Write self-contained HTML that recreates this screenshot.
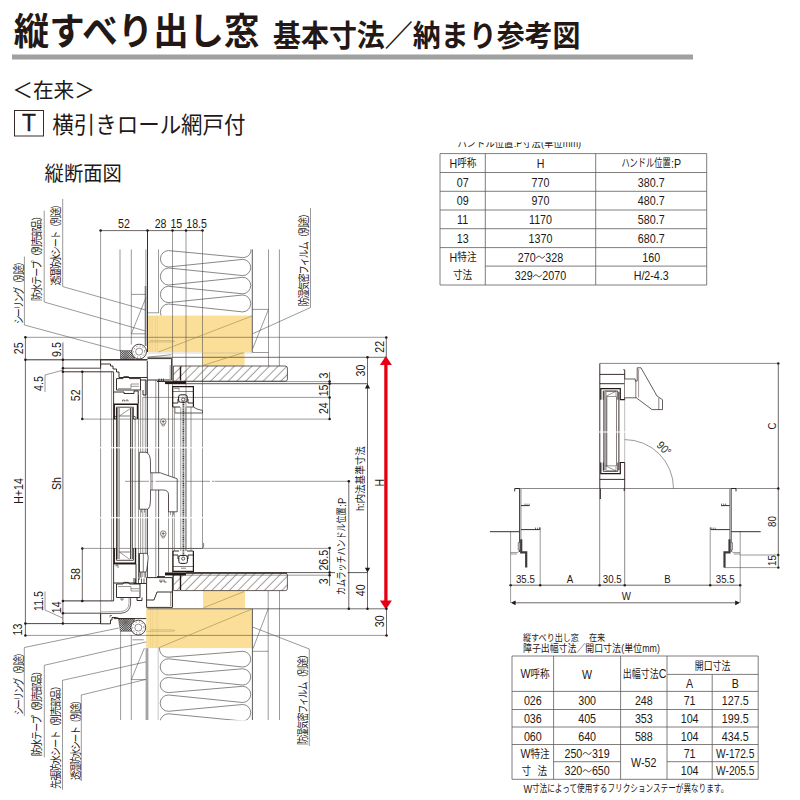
<!DOCTYPE html>
<html lang="ja"><head><meta charset="utf-8"><title>縦すべり出し窓 基本寸法/納まり参考図</title>
<style>
html,body{margin:0;padding:0;background:#fff;}
body{width:800px;height:800px;overflow:hidden;font-family:"Liberation Sans",sans-serif;}
svg{display:block;font-family:"Liberation Sans",sans-serif;}
.j{font-family:"Liberation Sans","Noto Sans CJK JP",sans-serif;fill:#231815;}
</style></head><body>
<svg width="800" height="800" viewBox="0 0 800 800">
<rect width="800" height="800" fill="#fff"/>
<text class="j" transform="translate(13.80 45.00) scale(1 1.0572)" font-size="35.47" font-weight="bold">縦すべり出し窓</text>
<text class="j" transform="translate(273.00 45.50) scale(1 1.0583)" font-size="27.97" font-weight="bold">基本寸法／納まり参考図</text>
<rect x="12" y="54.5" width="681" height="5" fill="#9fa0a0" stroke="none" stroke-width="0.6"/>
<text class="j" transform="translate(12.20 98.40) scale(1 1.005)" font-size="20.7">＜在来＞</text>
<rect x="14.5" y="110.5" width="29" height="25.5" fill="#fff" stroke="#231815" stroke-width="0.9"/>
<text transform="translate(29 131.3) scale(0.95 1)" font-size="24" text-anchor="middle" fill="#231815" stroke="#231815" stroke-width="0.35">T</text>
<text class="j" transform="translate(52.20 133.00) scale(1 1.0698)" font-size="21.5">横引きロール網戸付</text>
<text class="j" transform="translate(44.60 181.20) scale(1 1.0524)" font-size="19.29">縦断面図</text>
<clipPath id="clipT1"><rect x="440" y="142.3" width="300" height="10"/></clipPath>
<g clip-path="url(#clipT1)">
<text class="j" transform="translate(457.50 147.40) scale(1 1.136)" font-size="9.33">ハンドル位置</text>
<text transform="translate(513.77 147.40) scale(0.8 1)" font-size="11.5" text-anchor="start" fill="#231815">:P</text>
<text class="j" transform="translate(521.97 147.40) scale(1 1.136)" font-size="9.33">寸法</text>
<text transform="translate(540.92 147.40) scale(0.8 1)" font-size="11.5" text-anchor="start" fill="#231815">(</text>
<text class="j" transform="translate(543.92 147.40) scale(1 1.136)" font-size="9.33">単位</text>
<text transform="translate(562.78 147.40) scale(0.8 1)" font-size="11.5" text-anchor="start" fill="#231815">mm)</text>
</g>
<line x1="440" y1="153.6" x2="706.7" y2="153.6" stroke="#5f5c5b" stroke-width="0.8"/>
<line x1="440" y1="172.5" x2="706.7" y2="172.5" stroke="#5f5c5b" stroke-width="0.8"/>
<line x1="440" y1="191.3" x2="706.7" y2="191.3" stroke="#5f5c5b" stroke-width="0.8"/>
<line x1="440" y1="210" x2="706.7" y2="210" stroke="#5f5c5b" stroke-width="0.8"/>
<line x1="440" y1="228.7" x2="706.7" y2="228.7" stroke="#5f5c5b" stroke-width="0.8"/>
<line x1="440" y1="247.6" x2="706.7" y2="247.6" stroke="#5f5c5b" stroke-width="0.8"/>
<line x1="485.3" y1="266.1" x2="706.7" y2="266.1" stroke="#5f5c5b" stroke-width="0.8"/>
<line x1="440" y1="285" x2="706.7" y2="285" stroke="#5f5c5b" stroke-width="0.8"/>
<line x1="440" y1="153.6" x2="440" y2="285" stroke="#5f5c5b" stroke-width="0.8"/>
<line x1="485.3" y1="153.6" x2="485.3" y2="285" stroke="#5f5c5b" stroke-width="0.8"/>
<line x1="595.7" y1="153.6" x2="595.7" y2="285" stroke="#5f5c5b" stroke-width="0.8"/>
<line x1="706.7" y1="153.6" x2="706.7" y2="285" stroke="#5f5c5b" stroke-width="0.8"/>
<text transform="translate(449.60 167.80) scale(0.8 1)" font-size="13.3" text-anchor="start" fill="#231815">H</text>
<text class="j" transform="translate(457.20 167.45) scale(1 1.163)" font-size="9.63">呼称</text>
<text transform="translate(540.50 168.00) scale(0.8 1)" font-size="13.3" text-anchor="middle" fill="#231815">H</text>
<text class="j" transform="translate(621.40 167.45) scale(1 1.361)" font-size="8.23">ハンドル位置</text>
<text transform="translate(671.09 167.80) scale(0.8 1)" font-size="13.3" text-anchor="start" fill="#231815">:P</text>
<text transform="translate(462.65 186.70) scale(0.83 1)" font-size="12.9" text-anchor="middle" fill="#231815">07</text>
<text transform="translate(540.50 186.70) scale(0.83 1)" font-size="12.9" text-anchor="middle" fill="#231815">770</text>
<text transform="translate(651.20 186.70) scale(0.83 1)" font-size="12.9" text-anchor="middle" fill="#231815">380.7</text>
<text transform="translate(462.65 205.45) scale(0.83 1)" font-size="12.9" text-anchor="middle" fill="#231815">09</text>
<text transform="translate(540.50 205.45) scale(0.83 1)" font-size="12.9" text-anchor="middle" fill="#231815">970</text>
<text transform="translate(651.20 205.45) scale(0.83 1)" font-size="12.9" text-anchor="middle" fill="#231815">480.7</text>
<text transform="translate(462.65 224.15) scale(0.83 1)" font-size="12.9" text-anchor="middle" fill="#231815">11</text>
<text transform="translate(540.50 224.15) scale(0.83 1)" font-size="12.9" text-anchor="middle" fill="#231815">1170</text>
<text transform="translate(651.20 224.15) scale(0.83 1)" font-size="12.9" text-anchor="middle" fill="#231815">580.7</text>
<text transform="translate(462.65 242.95) scale(0.83 1)" font-size="12.9" text-anchor="middle" fill="#231815">13</text>
<text transform="translate(540.50 242.95) scale(0.83 1)" font-size="12.9" text-anchor="middle" fill="#231815">1370</text>
<text transform="translate(651.20 242.95) scale(0.83 1)" font-size="12.9" text-anchor="middle" fill="#231815">680.7</text>
<text transform="translate(517.84 261.65) scale(0.83 1)" font-size="12.9" text-anchor="start" fill="#231815">270</text>
<text transform="translate(545.30 261.65) scale(0.83 1)" font-size="12.9" text-anchor="start" fill="#231815">328</text>
<path d="M536.30 258.35 c1.3 -2.6 3.0 -2.6 4.2 -1.2 s2.9 1.4 4.2 -1.2" stroke="#231815" stroke-width="0.9" fill="none"/>
<text transform="translate(651.20 261.65) scale(0.83 1)" font-size="12.9" text-anchor="middle" fill="#231815">160</text>
<text transform="translate(514.86 280.35) scale(0.83 1)" font-size="12.9" text-anchor="start" fill="#231815">329</text>
<text transform="translate(542.32 280.35) scale(0.83 1)" font-size="12.9" text-anchor="start" fill="#231815">2070</text>
<path d="M533.32 277.05 c1.3 -2.6 3.0 -2.6 4.2 -1.2 s2.9 1.4 4.2 -1.2" stroke="#231815" stroke-width="0.9" fill="none"/>
<text transform="translate(651.20 280.35) scale(0.83 1)" font-size="12.9" text-anchor="middle" fill="#231815">H/2-4.3</text>
<text transform="translate(449.60 261.70) scale(0.8 1)" font-size="13.3" text-anchor="start" fill="#231815">H</text>
<text class="j" transform="translate(457.30 261.40) scale(1 1.163)" font-size="9.63">特注</text>
<text class="j" transform="translate(453.00 279.20) scale(1 1.163)" font-size="9.63">寸法</text>
<text class="j" transform="translate(523.00 640.60) scale(1 1.163)" font-size="8.08">縦すべり出し窓</text>
<text class="j" transform="translate(589.00 640.60) scale(1 1.163)" font-size="8.08">在来</text>
<text class="j" transform="translate(523.00 652.40) scale(1 1.167)" font-size="8.91">障子出幅寸法／開口寸法</text>
<text transform="translate(621.24 652.20) scale(0.8 1)" font-size="11" text-anchor="start" fill="#231815">(</text>
<text class="j" transform="translate(624.24 652.40) scale(1 1.167)" font-size="8.91">単位</text>
<text transform="translate(642.27 652.20) scale(0.8 1)" font-size="11" text-anchor="start" fill="#231815">mm)</text>
<line x1="512" y1="656" x2="758.2" y2="656" stroke="#5f5c5b" stroke-width="0.8"/>
<line x1="667" y1="674.4" x2="758.2" y2="674.4" stroke="#5f5c5b" stroke-width="0.8"/>
<line x1="512" y1="691.4" x2="758.2" y2="691.4" stroke="#5f5c5b" stroke-width="0.8"/>
<line x1="512" y1="709.5" x2="758.2" y2="709.5" stroke="#5f5c5b" stroke-width="0.8"/>
<line x1="512" y1="727" x2="758.2" y2="727" stroke="#5f5c5b" stroke-width="0.8"/>
<line x1="512" y1="744.5" x2="758.2" y2="744.5" stroke="#5f5c5b" stroke-width="0.8"/>
<line x1="512" y1="779.3" x2="758.2" y2="779.3" stroke="#5f5c5b" stroke-width="0.8"/>
<line x1="553.6" y1="761.7" x2="620.6" y2="761.7" stroke="#5f5c5b" stroke-width="0.8"/>
<line x1="667" y1="761.7" x2="758.2" y2="761.7" stroke="#5f5c5b" stroke-width="0.8"/>
<line x1="512" y1="656" x2="512" y2="779.3" stroke="#5f5c5b" stroke-width="0.8"/>
<line x1="553.6" y1="656" x2="553.6" y2="779.3" stroke="#5f5c5b" stroke-width="0.8"/>
<line x1="620.6" y1="656" x2="620.6" y2="779.3" stroke="#5f5c5b" stroke-width="0.8"/>
<line x1="667" y1="656" x2="667" y2="779.3" stroke="#5f5c5b" stroke-width="0.8"/>
<line x1="712.2" y1="674.4" x2="712.2" y2="779.3" stroke="#5f5c5b" stroke-width="0.8"/>
<line x1="758.2" y1="656" x2="758.2" y2="779.3" stroke="#5f5c5b" stroke-width="0.8"/>
<text transform="translate(520.60 678.45) scale(0.8 1)" font-size="13.3" text-anchor="start" fill="#231815">W</text>
<text class="j" transform="translate(530.40 678.10) scale(1 1.163)" font-size="9.63">呼称</text>
<text transform="translate(587.10 678.65) scale(0.8 1)" font-size="13.3" text-anchor="middle" fill="#231815">W</text>
<text class="j" transform="translate(622.80 678.10) scale(1 1.25)" font-size="8.96">出幅寸法</text>
<text transform="translate(658.84 678.45) scale(0.8 1)" font-size="13.3" text-anchor="start" fill="#231815">C</text>
<text class="j" transform="translate(712.60 669.60) scale(1 1.25)" font-size="8.96" text-anchor="middle">開口寸法</text>
<text transform="translate(689.60 687.85) scale(0.8 1)" font-size="13.3" text-anchor="middle" fill="#231815">A</text>
<text transform="translate(735.20 687.85) scale(0.8 1)" font-size="13.3" text-anchor="middle" fill="#231815">B</text>
<text transform="translate(532.80 705.25) scale(0.83 1)" font-size="12.9" text-anchor="middle" fill="#231815">026</text>
<text transform="translate(587.10 705.25) scale(0.83 1)" font-size="12.9" text-anchor="middle" fill="#231815">300</text>
<text transform="translate(643.80 705.25) scale(0.83 1)" font-size="12.9" text-anchor="middle" fill="#231815">248</text>
<text transform="translate(689.60 705.25) scale(0.83 1)" font-size="12.9" text-anchor="middle" fill="#231815">71</text>
<text transform="translate(735.20 705.25) scale(0.83 1)" font-size="12.9" text-anchor="middle" fill="#231815">127.5</text>
<text transform="translate(532.80 723.05) scale(0.83 1)" font-size="12.9" text-anchor="middle" fill="#231815">036</text>
<text transform="translate(587.10 723.05) scale(0.83 1)" font-size="12.9" text-anchor="middle" fill="#231815">405</text>
<text transform="translate(643.80 723.05) scale(0.83 1)" font-size="12.9" text-anchor="middle" fill="#231815">353</text>
<text transform="translate(689.60 723.05) scale(0.83 1)" font-size="12.9" text-anchor="middle" fill="#231815">104</text>
<text transform="translate(735.20 723.05) scale(0.83 1)" font-size="12.9" text-anchor="middle" fill="#231815">199.5</text>
<text transform="translate(532.80 740.55) scale(0.83 1)" font-size="12.9" text-anchor="middle" fill="#231815">060</text>
<text transform="translate(587.10 740.55) scale(0.83 1)" font-size="12.9" text-anchor="middle" fill="#231815">640</text>
<text transform="translate(643.80 740.55) scale(0.83 1)" font-size="12.9" text-anchor="middle" fill="#231815">588</text>
<text transform="translate(689.60 740.55) scale(0.83 1)" font-size="12.9" text-anchor="middle" fill="#231815">104</text>
<text transform="translate(735.20 740.55) scale(0.83 1)" font-size="12.9" text-anchor="middle" fill="#231815">434.5</text>
<text transform="translate(564.44 757.90) scale(0.83 1)" font-size="12.9" text-anchor="start" fill="#231815">250</text>
<text transform="translate(591.90 757.90) scale(0.83 1)" font-size="12.9" text-anchor="start" fill="#231815">319</text>
<path d="M582.90 754.60 c1.3 -2.6 3.0 -2.6 4.2 -1.2 s2.9 1.4 4.2 -1.2" stroke="#231815" stroke-width="0.9" fill="none"/>
<text transform="translate(564.44 775.30) scale(0.83 1)" font-size="12.9" text-anchor="start" fill="#231815">320</text>
<text transform="translate(591.90 775.30) scale(0.83 1)" font-size="12.9" text-anchor="start" fill="#231815">650</text>
<path d="M582.90 772.00 c1.3 -2.6 3.0 -2.6 4.2 -1.2 s2.9 1.4 4.2 -1.2" stroke="#231815" stroke-width="0.9" fill="none"/>
<text transform="translate(643.80 766.70) scale(0.83 1)" font-size="12.9" text-anchor="middle" fill="#231815">W-52</text>
<text transform="translate(689.60 757.90) scale(0.83 1)" font-size="12.9" text-anchor="middle" fill="#231815">71</text>
<text transform="translate(689.60 775.30) scale(0.83 1)" font-size="12.9" text-anchor="middle" fill="#231815">104</text>
<text transform="translate(735.20 757.90) scale(0.79 1)" font-size="12.9" text-anchor="middle" fill="#231815">W-172.5</text>
<text transform="translate(735.20 775.30) scale(0.79 1)" font-size="12.9" text-anchor="middle" fill="#231815">W-205.5</text>
<text transform="translate(520.60 757.85) scale(0.8 1)" font-size="13.3" text-anchor="start" fill="#231815">W</text>
<text class="j" transform="translate(530.40 757.50) scale(1 1.163)" font-size="9.63">特注</text>
<text class="j" transform="translate(521.50 774.90) scale(1 1.163)" font-size="9.63">寸</text>
<text class="j" transform="translate(537.50 774.90) scale(1 1.163)" font-size="9.63">法</text>
<text transform="translate(523.50 792.60) scale(0.8 1)" font-size="11.5" text-anchor="start" fill="#231815">W</text>
<text class="j" transform="translate(532.00 792.40) scale(1 1.352)" font-size="7.62">寸法によって使用するフリクションステーが異なります。</text>
<rect x="147.6" y="315.6" width="104.4" height="36.5" fill="#fbdf98" stroke="none" stroke-width="0.6"/>
<rect x="202.2" y="352" width="42.4" height="13.8" fill="#fbdf98" stroke="none" stroke-width="0.6"/>
<rect x="146.2" y="608.2" width="105.8" height="39.9" fill="#fbdf98" stroke="none" stroke-width="0.6"/>
<rect x="203" y="590.8" width="42" height="17.6" fill="#fbdf98" stroke="none" stroke-width="0.6"/>
<line x1="150" y1="315.8" x2="150" y2="352" stroke="#e3c37c" stroke-width="0.4"/>
<line x1="150.6" y1="608.4" x2="150.6" y2="648" stroke="#e3c37c" stroke-width="0.4"/>
<line x1="152.2" y1="315.8" x2="152.2" y2="352" stroke="#e3c37c" stroke-width="0.4"/>
<line x1="152.8" y1="608.4" x2="152.8" y2="648" stroke="#e3c37c" stroke-width="0.4"/>
<line x1="155.4" y1="315.8" x2="155.4" y2="352" stroke="#e3c37c" stroke-width="0.4"/>
<line x1="156" y1="608.4" x2="156" y2="648" stroke="#e3c37c" stroke-width="0.4"/>
<line x1="157.4" y1="315.8" x2="157.4" y2="352" stroke="#e3c37c" stroke-width="0.4"/>
<line x1="158" y1="608.4" x2="158" y2="648" stroke="#e3c37c" stroke-width="0.4"/>
<clipPath id="clipInsT"><rect x="150" y="240" width="110" height="75.6"/></clipPath>
<clipPath id="clipInsB"><rect x="150" y="640" width="110" height="80.2"/></clipPath>
<g clip-path="url(#clipInsT)">
<path d="M251 249.4 C251 254.5 248 257.4 242.6 257.6 L168.6 250.6 A8.2 8.2 0 0 0 168.6 267 L242.6 259.4 A8.1 8.1 0 0 1 242.6 275.6 L168.6 268 A8.2 8.5 0 0 0 168.6 285 L242.6 277.3 A8.1 8.25 0 0 1 242.6 293.8 L168.6 286.3 A8.2 8.15 0 0 0 168.6 302.6 L242.6 295 A8.1 8.45 0 0 1 242.6 311.9 L168.6 304 A8.2 8.25 0 0 0 168.6 320.5" stroke="#4c4948" stroke-width="0.66" fill="none"/>
</g>
<g clip-path="url(#clipInsB)">
<path d="M159.5 648 C159.5 653 162.5 657.2 168.4 657.2 L242.6 651.3 A8.1 7.85 0 0 1 242.6 667 L168.4 658.8 A8.2 8.1 0 0 0 168.4 675 L242.6 668.8 A8.1 8.1 0 0 1 242.6 685 L168.4 677.5 A8.2 7.55 0 0 0 168.4 692.6 L242.6 686.3 A8.1 8.1 0 0 1 242.6 702.5 L168.4 695 A8.2 8.15 0 0 0 168.4 711.3 L242.6 704.5 A8.1 8.25 0 0 1 242.6 721 L168.4 713.8 A8.2 8.1 0 0 0 168.4 730" stroke="#4c4948" stroke-width="0.66" fill="none"/>
</g>
<line x1="100.6" y1="230.6" x2="100.6" y2="623.8" stroke="#4c4948" stroke-width="0.56"/>
<line x1="120" y1="249.4" x2="120" y2="350.6" stroke="#4c4948" stroke-width="0.56"/>
<line x1="131.3" y1="249.4" x2="131.3" y2="344.5" stroke="#4c4948" stroke-width="0.56"/>
<line x1="145.9" y1="249.4" x2="145.9" y2="286" stroke="#4c4948" stroke-width="0.56"/>
<line x1="145.6" y1="286" x2="145.6" y2="346" stroke="#7d7b7a" stroke-width="1.8"/>
<line x1="147.5" y1="230.6" x2="147.5" y2="352" stroke="#231815" stroke-width="0.9"/>
<line x1="158.5" y1="249.4" x2="158.5" y2="313" stroke="#4c4948" stroke-width="0.56"/>
<line x1="172.5" y1="230.6" x2="172.5" y2="607" stroke="#4c4948" stroke-width="0.56"/>
<line x1="186" y1="230.6" x2="186" y2="551" stroke="#4c4948" stroke-width="0.56"/>
<line x1="202.5" y1="230.6" x2="202.5" y2="548.5" stroke="#4c4948" stroke-width="0.56"/>
<line x1="252.3" y1="249.4" x2="252.3" y2="352.5" stroke="#4c4948" stroke-width="0.9"/>
<line x1="268.5" y1="249.4" x2="268.5" y2="366" stroke="#4c4948" stroke-width="0.56"/>
<line x1="279.4" y1="249.4" x2="279.4" y2="366" stroke="#4c4948" stroke-width="0.56"/>
<line x1="120.6" y1="631" x2="120.6" y2="720" stroke="#4c4948" stroke-width="0.56"/>
<line x1="131.3" y1="635" x2="131.3" y2="720" stroke="#4c4948" stroke-width="0.56"/>
<line x1="147" y1="648.1" x2="147" y2="720" stroke="#a3a3a4" stroke-width="2.8"/>
<line x1="158.2" y1="648.1" x2="158.2" y2="720" stroke="#9e9e9f" stroke-width="0.56"/>
<line x1="252.4" y1="608.8" x2="252.4" y2="720" stroke="#4c4948" stroke-width="0.9"/>
<line x1="268.2" y1="591" x2="268.2" y2="720" stroke="#4c4948" stroke-width="0.56"/>
<line x1="279.5" y1="591" x2="279.5" y2="720" stroke="#4c4948" stroke-width="0.56"/>
<line x1="147.5" y1="312.8" x2="158.5" y2="312.8" stroke="#4c4948" stroke-width="0.56"/>
<line x1="25.4" y1="337.3" x2="386.3" y2="337.3" stroke="#4c4948" stroke-width="0.56"/>
<line x1="25.4" y1="359.8" x2="147.5" y2="359.8" stroke="#231815" stroke-width="0.9"/>
<line x1="147.5" y1="357.3" x2="386.3" y2="357.3" stroke="#4c4948" stroke-width="0.8"/>
<line x1="147.5" y1="608.8" x2="386.5" y2="608.8" stroke="#4c4948" stroke-width="0.8"/>
<line x1="25.4" y1="623.6" x2="100.6" y2="623.6" stroke="#231815" stroke-width="0.8"/>
<line x1="25.4" y1="635.4" x2="386.5" y2="635.4" stroke="#4c4948" stroke-width="0.56"/>
<path d="M131.3 294.4 L145.9 294.4" stroke="#4c4948" stroke-width="0.56" fill="none"/>
<path d="M146 297.5 L131.3 333.8 L145.5 333.8" stroke="#4c4948" stroke-width="0.56" fill="none"/>
<path d="M252.3 309.4 L268.5 309.4 L252.6 348.8" stroke="#4c4948" stroke-width="0.56" fill="none"/>
<line x1="252.3" y1="352.5" x2="268.5" y2="352.5" stroke="#4c4948" stroke-width="0.56"/>
<line x1="132.5" y1="639.8" x2="143.8" y2="639.8" stroke="#8a8888" stroke-width="0.9"/>
<path d="M144.4 648 L131.3 679.6 L145.6 679.6" stroke="#4c4948" stroke-width="0.56" fill="none"/>
<path d="M252.4 651.3 L268.2 651.3" stroke="#4c4948" stroke-width="0.56" fill="none"/>
<path d="M268.2 608.8 L253 648.6" stroke="#4c4948" stroke-width="0.56" fill="none"/>
<line x1="158.5" y1="352" x2="252" y2="316" stroke="#9a8852" stroke-width="0.6"/>
<line x1="203.5" y1="365.3" x2="243.5" y2="352.6" stroke="#9a8852" stroke-width="0.6"/>
<line x1="147.5" y1="357.2" x2="171.5" y2="354.7" stroke="#4c4948" stroke-width="0.56"/>
<line x1="147.5" y1="353" x2="252.3" y2="353" stroke="#9e9e9f" stroke-width="0.4"/>
<line x1="158.5" y1="647.8" x2="252" y2="609" stroke="#9a8852" stroke-width="0.6"/>
<line x1="203.5" y1="607.8" x2="244" y2="591.6" stroke="#9a8852" stroke-width="0.6"/>
<path d="M146.2 631.3 L172.5 631.3 L175 630.6 L172.5 629.9 L150 629.9" stroke="#9a8a60" stroke-width="0.4" fill="none"/>
<path d="M147.6 342 L172.5 342 L175 341.3 L172.5 340.6 L150 340.6" stroke="#9a8a60" stroke-width="0.4" fill="none"/>
<line x1="100.6" y1="230.6" x2="202.5" y2="230.6" stroke="#231815" stroke-width="0.66"/>
<circle cx="100.6" cy="230.6" r="1.25" fill="#231815"/>
<circle cx="147.5" cy="230.6" r="1.25" fill="#231815"/>
<circle cx="172.5" cy="230.6" r="1.25" fill="#231815"/>
<circle cx="186" cy="230.6" r="1.25" fill="#231815"/>
<circle cx="202.5" cy="230.6" r="1.25" fill="#231815"/>
<text transform="translate(124.00 228.00) scale(0.83 1)" font-size="12.8" text-anchor="middle" fill="#231815">52</text>
<text transform="translate(160.60 228.00) scale(0.83 1)" font-size="12.8" text-anchor="middle" fill="#231815">28</text>
<text transform="translate(176.30 228.00) scale(0.83 1)" font-size="12.8" text-anchor="middle" fill="#231815">15</text>
<text transform="translate(196.60 228.00) scale(0.83 1)" font-size="12.8" text-anchor="middle" fill="#231815">18.5</text>
<line x1="25.4" y1="337.3" x2="25.4" y2="635.4" stroke="#231815" stroke-width="0.66"/>
<circle cx="25.4" cy="337.3" r="1.25" fill="#231815"/>
<circle cx="25.4" cy="359.8" r="1.25" fill="#231815"/>
<circle cx="25.4" cy="623.6" r="1.25" fill="#231815"/>
<circle cx="25.4" cy="635.4" r="1.25" fill="#231815"/>
<text transform="translate(22.90 348.30) rotate(-90) scale(0.83 1)" font-size="12.8" text-anchor="middle" fill="#231815">25</text>
<text transform="translate(22.90 491.00) rotate(-90) scale(0.83 1)" font-size="12.8" text-anchor="middle" fill="#231815">H+14</text>
<text transform="translate(22.00 629.60) rotate(-90) scale(0.83 1)" font-size="12.8" text-anchor="middle" fill="#231815">13</text>
<line x1="62.9" y1="342.5" x2="62.9" y2="623.6" stroke="#231815" stroke-width="0.66"/>
<circle cx="62.9" cy="359.8" r="1.25" fill="#231815"/>
<circle cx="62.9" cy="368.2" r="1.25" fill="#231815"/>
<circle cx="62.9" cy="371.8" r="1.25" fill="#231815"/>
<circle cx="62.9" cy="600.9" r="1.25" fill="#231815"/>
<circle cx="62.9" cy="613.2" r="1.25" fill="#231815"/>
<circle cx="62.9" cy="623.6" r="1.25" fill="#231815"/>
<text transform="translate(60.60 349.50) rotate(-90) scale(0.83 1)" font-size="12.8" text-anchor="middle" fill="#231815">9.5</text>
<text transform="translate(60.60 483.50) rotate(-90) scale(0.83 1)" font-size="12.8" text-anchor="middle" fill="#231815">Sh</text>
<text transform="translate(60.60 607.30) rotate(-90) scale(0.83 1)" font-size="12.8" text-anchor="middle" fill="#231815">14</text>
<line x1="82.3" y1="371.8" x2="82.3" y2="419.1" stroke="#231815" stroke-width="0.66"/>
<line x1="82.3" y1="548.4" x2="82.3" y2="600.9" stroke="#231815" stroke-width="0.66"/>
<circle cx="82.3" cy="371.8" r="1.25" fill="#231815"/>
<circle cx="82.3" cy="419.1" r="1.25" fill="#231815"/>
<circle cx="82.3" cy="548.4" r="1.25" fill="#231815"/>
<circle cx="82.3" cy="600.9" r="1.25" fill="#231815"/>
<text transform="translate(79.60 395.30) rotate(-90) scale(0.83 1)" font-size="12.8" text-anchor="middle" fill="#231815">52</text>
<text transform="translate(79.60 574.00) rotate(-90) scale(0.83 1)" font-size="12.8" text-anchor="middle" fill="#231815">58</text>
<line x1="62.9" y1="368.2" x2="101" y2="368.2" stroke="#231815" stroke-width="0.8"/>
<line x1="62.9" y1="371.8" x2="113.5" y2="371.8" stroke="#231815" stroke-width="0.9"/>
<line x1="82.3" y1="419.1" x2="329.6" y2="419.1" stroke="#4c4948" stroke-width="0.56"/>
<line x1="82.3" y1="548.4" x2="329.6" y2="548.4" stroke="#4c4948" stroke-width="0.56"/>
<line x1="62.9" y1="600.9" x2="113.5" y2="600.9" stroke="#231815" stroke-width="0.9"/>
<line x1="62.9" y1="613.2" x2="100.6" y2="613.2" stroke="#231815" stroke-width="0.8"/>
<text transform="translate(42.80 383.50) rotate(-90) scale(0.83 1)" font-size="12.8" text-anchor="middle" fill="#231815">4.5</text>
<path d="M45 392 L45 375 L62.9 370.2" stroke="#4c4948" stroke-width="0.56" fill="none"/>
<text transform="translate(42.80 601.00) rotate(-90) scale(0.83 1)" font-size="12.8" text-anchor="middle" fill="#231815">11.5</text>
<path d="M45 591.5 L45 610 L62.9 618.2" stroke="#4c4948" stroke-width="0.56" fill="none"/>
<line x1="386.3" y1="337.4" x2="386.3" y2="357.3" stroke="#231815" stroke-width="0.66"/>
<circle cx="386.3" cy="337.4" r="1.25" fill="#231815"/>
<text transform="translate(383.80 346.80) rotate(-90) scale(0.83 1)" font-size="12.8" text-anchor="middle" fill="#231815">22</text>
<line x1="367.5" y1="357.3" x2="367.5" y2="608.8" stroke="#231815" stroke-width="0.66"/>
<circle cx="367.5" cy="357.3" r="1.25" fill="#231815"/>
<circle cx="367.5" cy="608.8" r="1.25" fill="#231815"/>
<text transform="translate(365.20 370.50) rotate(-90) scale(0.83 1)" font-size="12.8" text-anchor="middle" fill="#231815">30</text>
<text transform="translate(364.90 590.30) rotate(-90) scale(0.83 1)" font-size="12.8" text-anchor="middle" fill="#231815">40</text>
<path d="M367.5 383.8 L364.9 388.6 L370.1 388.6 Z" stroke="#231815" stroke-width="0" fill="#231815"/>
<path d="M367.5 572.6 L364.9 567.8 L370.1 567.8 Z" stroke="#231815" stroke-width="0" fill="#231815"/>
<line x1="173" y1="383.7" x2="367.5" y2="383.7" stroke="#4c4948" stroke-width="0.9"/>
<line x1="173" y1="381.6" x2="329.6" y2="381.6" stroke="#4c4948" stroke-width="0.56"/>
<line x1="143" y1="397.4" x2="329.6" y2="397.4" stroke="#4c4948" stroke-width="0.56"/>
<line x1="329.6" y1="372" x2="329.6" y2="418.9" stroke="#231815" stroke-width="0.66"/>
<circle cx="329.6" cy="381.4" r="1.25" fill="#231815"/>
<circle cx="329.6" cy="383.7" r="1.25" fill="#231815"/>
<circle cx="329.6" cy="397.4" r="1.25" fill="#231815"/>
<circle cx="329.6" cy="418.9" r="1.25" fill="#231815"/>
<text transform="translate(327.80 375.60) rotate(-90) scale(0.83 1)" font-size="12.8" text-anchor="middle" fill="#231815">3</text>
<text transform="translate(327.80 390.40) rotate(-90) scale(0.83 1)" font-size="12.8" text-anchor="middle" fill="#231815">15</text>
<text transform="translate(327.80 408.20) rotate(-90) scale(0.83 1)" font-size="12.8" text-anchor="middle" fill="#231815">24</text>
<line x1="186" y1="572.6" x2="367.5" y2="572.6" stroke="#4c4948" stroke-width="0.9"/>
<line x1="329.6" y1="548" x2="329.6" y2="586" stroke="#231815" stroke-width="0.66"/>
<circle cx="329.6" cy="548" r="1.25" fill="#231815"/>
<circle cx="329.6" cy="572.4" r="1.25" fill="#231815"/>
<circle cx="329.6" cy="575.2" r="1.25" fill="#231815"/>
<text transform="translate(327.80 560.20) rotate(-90) scale(0.83 1)" font-size="12.8" text-anchor="middle" fill="#231815">26.5</text>
<text transform="translate(327.80 581.20) rotate(-90) scale(0.83 1)" font-size="12.8" text-anchor="middle" fill="#231815">3</text>
<line x1="173" y1="575.2" x2="329.6" y2="575.2" stroke="#4c4948" stroke-width="0.56"/>
<line x1="215" y1="481.3" x2="348.8" y2="481.3" stroke="#4c4948" stroke-width="0.56"/>
<line x1="348.8" y1="481.3" x2="348.8" y2="608.8" stroke="#231815" stroke-width="0.66"/>
<circle cx="348.8" cy="481.3" r="1.25" fill="#231815"/>
<circle cx="348.8" cy="608.8" r="1.25" fill="#231815"/>
<rect x="335" y="570.8" width="12.6" height="5.4" fill="#fff" stroke="none" stroke-width="0.6"/>
<text class="j" transform="translate(345.20 595.00) rotate(-90) scale(1 1.325)" font-size="8">カムラッチハンドル位置</text>
<text transform="translate(345.60 506.70) rotate(-90) scale(0.8 1)" font-size="11.8" text-anchor="start" fill="#231815">:P</text>
<text transform="translate(364.40 511.00) rotate(-90) scale(0.8 1)" font-size="11.5" text-anchor="start" fill="#231815">h:</text>
<text class="j" transform="translate(364.20 503.50) rotate(-90) scale(1 1.0647)" font-size="9.58">内法基準寸法</text>
<text transform="translate(383.60 482.60) rotate(-90) scale(0.85 1)" font-size="12.5" text-anchor="middle" fill="#231815">H</text>
<line x1="385.9" y1="362" x2="385.9" y2="603" stroke="#e60012" stroke-width="3.3"/>
<path d="M385.9 356 L379.9 364.9 L391.9 364.9 Z" stroke="#e60012" stroke-width="0" fill="#e60012"/>
<path d="M385.9 609.4 L379.9 600.4 L391.9 600.4 Z" stroke="#e60012" stroke-width="0" fill="#e60012"/>
<circle cx="386.5" cy="608.8" r="1.25" fill="#231815"/>
<circle cx="386.5" cy="635.5" r="1.25" fill="#231815"/>
<line x1="386.5" y1="608.8" x2="386.5" y2="635.5" stroke="#231815" stroke-width="0.66"/>
<text transform="translate(384.40 621.30) rotate(-90) scale(0.83 1)" font-size="12.8" text-anchor="middle" fill="#231815">30</text>
<pattern id="hat" width="6.2" height="6.2" patternUnits="userSpaceOnUse" patternTransform="rotate(-45)"><line x1="0" y1="3" x2="6.2" y2="3" stroke="#4c4948" stroke-width="0.55"/></pattern>
<path d="M173.4 366 L285.3 366 Q287.4 366 287.4 368 L287.4 379.2 Q287.4 381.2 285.3 381.2 L173.4 381.2 Z" stroke="#231815" stroke-width="0.7" fill="url(#hat)"/>
<path d="M173.4 573.2 L285.3 573.2 Q287.4 573.2 287.4 575.2 L287.4 588.6 Q287.4 590.6 285.3 590.6 L173.4 590.6 Z" stroke="#231815" stroke-width="0.7" fill="url(#hat)"/>
<line x1="186" y1="573" x2="287" y2="573" stroke="#231815" stroke-width="0.9"/>
<line x1="180.5" y1="366.5" x2="180.5" y2="380.5" stroke="#231815" stroke-width="1.4"/>
<line x1="180.5" y1="574.5" x2="180.5" y2="590" stroke="#231815" stroke-width="1.4"/>
<rect x="165" y="381.2" width="21" height="2.9" fill="#231815" stroke="none" stroke-width="0.6"/>
<rect x="165" y="572.5" width="21" height="2.9" fill="#231815" stroke="none" stroke-width="0.6"/>
<text class="j" transform="translate(23.00 324.00) rotate(-90) scale(1 1.3095)" font-size="8.4" textLength="66.5" lengthAdjust="spacing">シーリング（別途）</text>
<line x1="24.4" y1="325" x2="24.4" y2="256.5" stroke="#4c4948" stroke-width="0.56"/>
<line x1="24.4" y1="325" x2="120.5" y2="351" stroke="#4c4948" stroke-width="0.56"/>
<text class="j" transform="translate(40.90 301.00) rotate(-90) scale(1 1.2195)" font-size="9.02" textLength="89.5" lengthAdjust="spacing">防水テープ（別売部品）</text>
<line x1="44.2" y1="302" x2="44.2" y2="210.5" stroke="#4c4948" stroke-width="0.56"/>
<line x1="44.2" y1="302" x2="145.5" y2="331" stroke="#4c4948" stroke-width="0.56"/>
<text class="j" transform="translate(60.20 285.60) rotate(-90) scale(1 1.2746)" font-size="8.63" textLength="85.6" lengthAdjust="spacing">透湿防水シート（別途）</text>
<line x1="62.7" y1="286.6" x2="62.7" y2="199" stroke="#4c4948" stroke-width="0.56"/>
<line x1="62.7" y1="286.6" x2="145.6" y2="310" stroke="#4c4948" stroke-width="0.56"/>
<text class="j" transform="translate(308.00 306.50) rotate(-90) scale(1 1.2318)" font-size="8.93" textLength="97.5" lengthAdjust="spacing">防湿気密フィルム（別途）</text>
<line x1="310.5" y1="307.5" x2="310.5" y2="208" stroke="#4c4948" stroke-width="0.56"/>
<line x1="310.5" y1="307.5" x2="252.5" y2="333.8" stroke="#4c4948" stroke-width="0.56"/>
<text class="j" transform="translate(23.00 715.00) rotate(-90) scale(1 1.3095)" font-size="8.4" textLength="66.5" lengthAdjust="spacing">シーリング（別途）</text>
<line x1="24.3" y1="716" x2="24.3" y2="647.5" stroke="#4c4948" stroke-width="0.56"/>
<line x1="24.3" y1="647.5" x2="118.8" y2="628" stroke="#4c4948" stroke-width="0.56"/>
<text class="j" transform="translate(41.20 756.30) rotate(-90) scale(1 1.2128)" font-size="9.07" textLength="90" lengthAdjust="spacing">防水テープ（別売部品）</text>
<line x1="44.3" y1="757.3" x2="44.3" y2="665.3" stroke="#4c4948" stroke-width="0.56"/>
<line x1="44.3" y1="665.3" x2="146.2" y2="641.9" stroke="#4c4948" stroke-width="0.56"/>
<text class="j" transform="translate(60.40 788.80) rotate(-90) scale(1 1.2195)" font-size="9.02" textLength="107.5" lengthAdjust="spacing">先張防水シート（別売部品）</text>
<line x1="62.5" y1="789.8" x2="62.5" y2="680.3" stroke="#4c4948" stroke-width="0.56"/>
<line x1="62.5" y1="680.3" x2="146" y2="661.9" stroke="#4c4948" stroke-width="0.56"/>
<text class="j" transform="translate(79.70 780.00) rotate(-90) scale(1 1.2987)" font-size="8.47" textLength="84" lengthAdjust="spacing">透湿防水シート（別途）</text>
<line x1="81.3" y1="781" x2="81.3" y2="695" stroke="#4c4948" stroke-width="0.56"/>
<line x1="81.3" y1="695" x2="146" y2="679.4" stroke="#4c4948" stroke-width="0.56"/>
<text class="j" transform="translate(307.20 745.00) rotate(-90) scale(1 1.2644)" font-size="8.7" textLength="95" lengthAdjust="spacing">防湿気密フィルム（別途）</text>
<line x1="309.3" y1="746" x2="309.3" y2="649" stroke="#4c4948" stroke-width="0.56"/>
<line x1="309.3" y1="649" x2="252.5" y2="627" stroke="#4c4948" stroke-width="0.56"/>
<pattern id="xh" width="1.55" height="1.55" patternUnits="userSpaceOnUse" patternTransform="rotate(45)"><rect width="1.55" height="1.55" fill="#fff"/><path d="M0 0.4H1.55M0.4 0V1.55" stroke="#3e3a39" stroke-width="0.62"/></pattern>
<rect x="120.4" y="350.7" width="14" height="8.8" fill="url(#xh)" stroke="#231815" stroke-width="0.4"/>
<circle cx="139.1" cy="351.6" r="7.4" fill="#fff" stroke="#231815" stroke-width="0.8"/>
<circle cx="139.1" cy="351.6" r="5.6" fill="none" stroke="#231815" stroke-width="0.9" stroke-dasharray="0.7 2.6"/>
<circle cx="139.1" cy="351.6" r="3.5" fill="#fff" stroke="#4c4948" stroke-width="0.6"/>
<path d="M118.4 618.6 L134.5 618.6 L133 631.3 L120.4 631.3 Z" stroke="#231815" stroke-width="0.4" fill="url(#xh)"/>
<line x1="113.8" y1="618.6" x2="146.2" y2="618.6" stroke="#231815" stroke-width="0.9"/>
<circle cx="138.3" cy="627.6" r="7.4" fill="#fff" stroke="#231815" stroke-width="0.8"/>
<circle cx="138.3" cy="627.6" r="5.6" fill="none" stroke="#231815" stroke-width="0.9" stroke-dasharray="0.7 2.6"/>
<circle cx="138.3" cy="627.6" r="3.5" fill="#fff" stroke="#4c4948" stroke-width="0.6"/>
<line x1="111.6" y1="371.8" x2="111.6" y2="601" stroke="#4c4948" stroke-width="0.56"/>
<line x1="113.6" y1="371.8" x2="113.6" y2="601" stroke="#3e3a39" stroke-width="1"/>
<rect x="116.8" y="408" width="2.6" height="151" fill="#d3d3d4" stroke="none" stroke-width="0.6"/>
<rect x="130.2" y="408" width="2.2" height="151" fill="#d3d3d4" stroke="none" stroke-width="0.6"/>
<line x1="116.8" y1="408" x2="116.8" y2="559" stroke="#231815" stroke-width="1.2"/>
<line x1="119.2" y1="408" x2="119.2" y2="559" stroke="#6a6868" stroke-width="0.8"/>
<line x1="130.5" y1="408" x2="130.5" y2="559" stroke="#3e3a39" stroke-width="0.9"/>
<line x1="132.4" y1="408" x2="132.4" y2="559" stroke="#231815" stroke-width="0.7"/>
<line x1="135.2" y1="419" x2="135.2" y2="548" stroke="#4c4948" stroke-width="0.56"/>
<line x1="138.5" y1="395" x2="138.5" y2="577" stroke="#4c4948" stroke-width="0.56"/>
<line x1="140.6" y1="390" x2="140.6" y2="577" stroke="#4c4948" stroke-width="0.56"/>
<line x1="142.8" y1="397" x2="142.8" y2="577" stroke="#4c4948" stroke-width="0.56"/>
<line x1="145.3" y1="380" x2="145.3" y2="577" stroke="#4c4948" stroke-width="0.56"/>
<line x1="147.3" y1="361" x2="147.3" y2="577.5" stroke="#231815" stroke-width="0.9"/>
<line x1="155.8" y1="380" x2="155.8" y2="577.5" stroke="#4c4948" stroke-width="0.56"/>
<line x1="158.6" y1="380" x2="158.6" y2="577.5" stroke="#4c4948" stroke-width="0.9"/>
<line x1="168.5" y1="384" x2="168.5" y2="572.5" stroke="#4c4948" stroke-width="0.56"/>
<line x1="174.3" y1="407" x2="174.3" y2="551" stroke="#4c4948" stroke-width="0.56"/>
<line x1="180.8" y1="407" x2="180.8" y2="551" stroke="#4c4948" stroke-width="0.56"/>
<line x1="185.9" y1="407" x2="185.9" y2="551" stroke="#4c4948" stroke-width="0.56"/>
<line x1="191" y1="407" x2="191" y2="551" stroke="#4c4948" stroke-width="0.56"/>
<line x1="183.4" y1="402" x2="183.4" y2="556" stroke="#3e3a39" stroke-width="1.8" stroke-dasharray="1.2 0.6"/>
<path d="M100.6 367.8 L100.6 359.8 L147.3 359.8" stroke="#231815" stroke-width="0.9" fill="none"/>
<path d="M100.9 364 L110.5 364 L110.5 366 L113 366 L113 369 L116.5 369 L116.5 372 L119 372 L119 377.5 L147 377.5" stroke="#231815" stroke-width="0.9" fill="none"/>
<path d="M147.5 358.6 L171.6 358.6 L171.6 380 L147.5 380" stroke="#231815" stroke-width="0.9" fill="none"/>
<line x1="170.2" y1="365" x2="170.2" y2="379" stroke="#4c4948" stroke-width="0.56"/>
<path d="M116.5 390 L116.5 378.6 L123 378.6 L123.8 376.7 L128.6 376.7 L129.4 378.6 L140.5 378.6 L140.5 390 L116.5 390" stroke="#231815" stroke-width="0.9" fill="none"/>
<path d="M118 388.6 L131 388.6 L131 384 L139 384" stroke="#4c4948" stroke-width="0.56" fill="none"/>
<path d="M131 386.3 L139 386.3" stroke="#4c4948" stroke-width="0.56" fill="none"/>
<path d="M140.5 380 L146 380 L146 395 L143 395 L143 390" stroke="#231815" stroke-width="0.9" fill="none"/>
<path d="M113.6 392 L124 392 L124 393.5 L134 393.5 L134 391 L138.2 391 L138.2 403.6" stroke="#231815" stroke-width="0.9" fill="none"/>
<path d="M122.5 401.5 L122.5 400 L124.5 400 L124.5 401.5" stroke="#231815" stroke-width="0.56" fill="none"/>
<path d="M126 401.5 L126 400 L128 400 L128 401.5" stroke="#231815" stroke-width="0.56" fill="none"/>
<path d="M114.2 419 L114.2 404.3 L137.5 404.3 L137.5 419" stroke="#231815" stroke-width="1.4" fill="none"/>
<path d="M116.4 419 L116.4 407.2 L133.4 407.2 L133.4 419 L136.3 419" stroke="#231815" stroke-width="0.8" fill="none"/>
<path d="M114.2 419 L116.4 419" stroke="#231815" stroke-width="0.8" fill="none"/>
<path d="M133.4 416 L136.3 417.5" stroke="#231815" stroke-width="0.8" fill="none"/>
<path d="M116.4 416 L114.2 417.5" stroke="#231815" stroke-width="0.8" fill="none"/>
<path d="M119.4 416 L129.9 416" stroke="#231815" stroke-width="0.56" fill="none"/>
<path d="M119.4 416 L129.9 408.8" stroke="#4c4948" stroke-width="0.56" fill="none"/>
<path d="M157 381.5 L165 381.5" stroke="#231815" stroke-width="0.9" fill="none"/>
<path d="M159 378.5 L159 381" stroke="#231815" stroke-width="0.7" fill="none"/>
<path d="M161.5 378.5 L161.5 381" stroke="#231815" stroke-width="0.7" fill="none"/>
<path d="M163.5 378.5 L163.5 381" stroke="#231815" stroke-width="0.7" fill="none"/>
<path d="M172.7 407 L172.7 386.6 L193.4 386.6 L193.4 407" stroke="#231815" stroke-width="1.2" fill="none"/>
<path d="M172.7 391.5 L193.4 391.5" stroke="#231815" stroke-width="0.56" fill="none"/>
<path d="M174 388.3 L179 388.3 L179 390.5" stroke="#4c4948" stroke-width="0.7" fill="none"/>
<path d="M172.7 403 L178 403 L178 399" stroke="#231815" stroke-width="0.9" fill="none"/>
<path d="M193.4 403 L188 403 L188 399" stroke="#231815" stroke-width="0.9" fill="none"/>
<rect x="178.6" y="394.8" width="8.6" height="7.4" rx="2" fill="none" stroke="#231815" stroke-width="1"/>
<circle cx="183.2" cy="399.5" r="1.6" fill="none" stroke="#231815" stroke-width="0.7"/>
<path d="M172.7 407 L180 407" stroke="#231815" stroke-width="0.9" fill="none"/>
<path d="M186.5 407 L193.4 407 L197 409 L202.5 410.5 L202.5 413 L175 413" stroke="#4c4948" stroke-width="0.9" fill="none"/>
<path d="M175 413 L175 407" stroke="#4c4948" stroke-width="0.56" fill="none"/>
<circle cx="163.2" cy="421.6" r="2.8" fill="#fff" stroke="#231815" stroke-width="0.55"/>
<line x1="161.6" y1="421.6" x2="164.8" y2="421.6" stroke="#231815" stroke-width="0.55"/>
<line x1="163.2" y1="420" x2="163.2" y2="423.2" stroke="#231815" stroke-width="0.55"/>
<path d="M161.7 424.35 a1.5 1.7 0 1 0 3 0" stroke="#231815" stroke-width="0.5" fill="none"/>
<circle cx="163.2" cy="533.6" r="2.8" fill="#fff" stroke="#231815" stroke-width="0.55"/>
<line x1="161.6" y1="533.6" x2="164.8" y2="533.6" stroke="#231815" stroke-width="0.55"/>
<line x1="163.2" y1="532" x2="163.2" y2="535.2" stroke="#231815" stroke-width="0.55"/>
<path d="M161.7 536.35 a1.5 1.7 0 1 0 3 0" stroke="#231815" stroke-width="0.5" fill="none"/>
<path d="M139.3 452.3 L146 452.3 Q150.4 453.5 150.5 462 L150.5 499 Q150.4 508.5 147.5 509.2 L139.3 509.2 Z" stroke="#231815" stroke-width="0.7" fill="#fff"/>
<path d="M150.5 472.8 L160.3 472.8 L177.2 478.8 L177.2 511.8 L168.5 511.8 L168.5 494.5 Q168.3 490.2 163.5 490 L150.5 490" stroke="#231815" stroke-width="0.7" fill="#fff"/>
<line x1="152" y1="472.8" x2="152" y2="490" stroke="#231815" stroke-width="0.56"/>
<path d="M141.5 509.2 L141.5 512.5" stroke="#4c4948" stroke-width="0.56" fill="none"/>
<path d="M144.5 509.2 L144.5 512.5" stroke="#4c4948" stroke-width="0.56" fill="none"/>
<path d="M170.5 511.8 L170.5 515" stroke="#4c4948" stroke-width="0.56" fill="none"/>
<path d="M173.5 511.8 L173.5 515" stroke="#4c4948" stroke-width="0.56" fill="none"/>
<line x1="125" y1="481.3" x2="215" y2="481.3" stroke="#4c4948" stroke-width="0.56" stroke-dasharray="24 2 2.5 2"/>
<rect x="98" y="447.2" width="108" height="1.1" fill="#fff" stroke="none" stroke-width="0.6"/>
<rect x="98" y="517.2" width="108" height="1.1" fill="#fff" stroke="none" stroke-width="0.6"/>
<path d="M114.2 548 L114.2 563.2 L135.5 563.2 L135.5 548" stroke="#231815" stroke-width="1.4" fill="none"/>
<path d="M116.4 548 L116.4 560.3 L133.4 560.3 L133.4 548" stroke="#231815" stroke-width="0.8" fill="none"/>
<path d="M119.4 552 L129.9 552" stroke="#231815" stroke-width="0.56" fill="none"/>
<path d="M119.4 552 L129.9 559.5" stroke="#4c4948" stroke-width="0.56" fill="none"/>
<path d="M113.6 564 L136 564 L136 583 L113.6 583" stroke="#231815" stroke-width="0.9" fill="none"/>
<path d="M116 566.5 L116 565.2 L118 565.2 L118 568" stroke="#231815" stroke-width="0.56" fill="none"/>
<path d="M116.5 584 L123 584 L123.8 582.4 L128.6 582.4 L129.4 584 L140 584 L140 597.5 L116.5 597.5 L116.5 584" stroke="#231815" stroke-width="0.9" fill="none"/>
<path d="M118 586.5 L131 586.5 L131 591 L139 591" stroke="#4c4948" stroke-width="0.56" fill="none"/>
<path d="M131 588.7 L139 588.7" stroke="#4c4948" stroke-width="0.56" fill="none"/>
<path d="M121 597.5 L121 600 L123 600 L123 597.5" stroke="#231815" stroke-width="0.56" fill="none"/>
<path d="M137 597.5 L137 600.5 L142 600.5 L142 597.5" stroke="#231815" stroke-width="0.9" fill="none"/>
<path d="M134 578 L134 583.5 L146 583.5" stroke="#231815" stroke-width="0.9" fill="none"/>
<path d="M135.5 578.5 L135.5 583" stroke="#231815" stroke-width="0.7" fill="none"/>
<path d="M138.5 578.5 L138.5 583" stroke="#231815" stroke-width="0.7" fill="none"/>
<path d="M141.5 578.5 L141.5 583" stroke="#231815" stroke-width="0.7" fill="none"/>
<path d="M144 578.5 L144 583" stroke="#231815" stroke-width="0.7" fill="none"/>
<path d="M139.5 553.5 L146.5 553.3 Q148.5 554.5 148.2 558 L146.8 570 Q146.5 572 145 572 L139.5 572 Z" stroke="#231815" stroke-width="0.7" fill="#fff"/>
<line x1="143.3" y1="553.5" x2="143.3" y2="572" stroke="#231815" stroke-width="0.56"/>
<line x1="139" y1="553" x2="139" y2="580" stroke="#231815" stroke-width="0.9"/>
<path d="M141 572 L141 578" stroke="#231815" stroke-width="0.56" fill="none"/>
<path d="M145 572 L145 578" stroke="#231815" stroke-width="0.56" fill="none"/>
<path d="M130.6 598 L130.6 604 Q130 612.6 121 613.3 L100.6 613.6" stroke="#231815" stroke-width="0.7" fill="none"/>
<path d="M129 598 L129 603.5 Q128.5 611 120.5 611.6 L100.6 612" stroke="#4c4948" stroke-width="0.5" fill="none"/>
<path d="M100.6 623.8 L110.5 623.8 L110.5 620 L112 620 L112 617.5 L116.5 617.5 L120.3 619" stroke="#231815" stroke-width="0.9" fill="none"/>
<path d="M100.6 623.8 L100.6 613.6" stroke="#231815" stroke-width="0.9" fill="none"/>
<path d="M110 617.5 L110 615.5 L112 615.5" stroke="#231815" stroke-width="0.56" fill="none"/>
<path d="M146.6 607.4 L146.6 577.6 L172.4 577.6 L172.4 607.4 L146.6 607.4" stroke="#231815" stroke-width="0.9" fill="none"/>
<path d="M147 600 L154 600 L157 592 L172.4 592" stroke="#231815" stroke-width="0.9" fill="none"/>
<line x1="170.6" y1="592" x2="170.6" y2="606" stroke="#4c4948" stroke-width="0.56"/>
<path d="M160 579.5 L160 582 L162 582 L162 579.5" stroke="#231815" stroke-width="0.7" fill="none"/>
<path d="M164 579.5 L164 582 L166.5 582" stroke="#231815" stroke-width="0.7" fill="none"/>
<path d="M157 576.6 L165 576.6" stroke="#231815" stroke-width="0.9" fill="none"/>
<path d="M173 551 L173 571.4 L193.4 571.4 L193.4 551" stroke="#231815" stroke-width="1.2" fill="none"/>
<path d="M173 551 L179 551" stroke="#231815" stroke-width="0.9" fill="none"/>
<path d="M187 551 L193.4 551" stroke="#231815" stroke-width="0.9" fill="none"/>
<path d="M173 555 L178 555 L178 559" stroke="#231815" stroke-width="0.9" fill="none"/>
<path d="M193.4 555 L188 555 L188 559" stroke="#231815" stroke-width="0.9" fill="none"/>
<rect x="178.8" y="555.4" width="8.6" height="8" rx="2" fill="none" stroke="#231815" stroke-width="1"/>
<circle cx="183.2" cy="558.6" r="1.6" fill="none" stroke="#231815" stroke-width="0.7"/>
<path d="M181 568.2 L186 568.2" stroke="#4c4948" stroke-width="0.7" fill="none"/>
<path d="M173 566.5 L193.4 566.5" stroke="#231815" stroke-width="0.56" fill="none"/>
<path d="M158.6 548.5 L201.5 548.5 Q203.6 548.3 203.6 546 L203.6 543" stroke="#4c4948" stroke-width="0.7" fill="none"/>
<line x1="600" y1="363.4" x2="778.3" y2="363.4" stroke="#4c4948" stroke-width="0.66"/>
<line x1="515.4" y1="488.5" x2="778.3" y2="488.5" stroke="#4c4948" stroke-width="0.66"/>
<line x1="778.3" y1="363.4" x2="778.3" y2="567.6" stroke="#231815" stroke-width="0.66"/>
<circle cx="778.3" cy="363.4" r="1.2" fill="#231815"/>
<circle cx="778.3" cy="488.5" r="1.2" fill="#231815"/>
<circle cx="778.3" cy="555" r="1.2" fill="#231815"/>
<circle cx="778.3" cy="567.6" r="1.2" fill="#231815"/>
<text transform="translate(776.20 426.00) rotate(-90) scale(0.88 1)" font-size="11" text-anchor="middle" fill="#231815">C</text>
<text transform="translate(776.20 521.50) rotate(-90) scale(0.88 1)" font-size="11" text-anchor="middle" fill="#231815">80</text>
<text transform="translate(776.20 560.60) rotate(-90) scale(0.88 1)" font-size="11" text-anchor="middle" fill="#231815">15</text>
<line x1="740.2" y1="555" x2="778.3" y2="555" stroke="#4c4948" stroke-width="0.56"/>
<line x1="724" y1="567.6" x2="778.3" y2="567.6" stroke="#4c4948" stroke-width="0.56"/>
<line x1="510.6" y1="585.2" x2="740.2" y2="585.2" stroke="#231815" stroke-width="0.66"/>
<circle cx="510.6" cy="585.2" r="1.2" fill="#231815"/>
<circle cx="540.2" cy="585.2" r="1.2" fill="#231815"/>
<circle cx="599.6" cy="585.2" r="1.2" fill="#231815"/>
<circle cx="624.7" cy="585.2" r="1.2" fill="#231815"/>
<circle cx="710.2" cy="585.2" r="1.2" fill="#231815"/>
<circle cx="740.2" cy="585.2" r="1.2" fill="#231815"/>
<text transform="translate(525.40 582.60) scale(0.88 1)" font-size="11" text-anchor="middle" fill="#231815">35.5</text>
<text transform="translate(570.00 582.60) scale(0.88 1)" font-size="11" text-anchor="middle" fill="#231815">A</text>
<text transform="translate(612.20 582.60) scale(0.88 1)" font-size="11" text-anchor="middle" fill="#231815">30.5</text>
<text transform="translate(667.50 582.60) scale(0.88 1)" font-size="11" text-anchor="middle" fill="#231815">B</text>
<text transform="translate(725.20 582.60) scale(0.88 1)" font-size="11" text-anchor="middle" fill="#231815">35.5</text>
<line x1="510.6" y1="531.7" x2="510.6" y2="602.8" stroke="#4c4948" stroke-width="0.56"/>
<line x1="740.2" y1="531" x2="740.2" y2="602.8" stroke="#4c4948" stroke-width="0.56"/>
<line x1="540.2" y1="527.5" x2="540.2" y2="585.2" stroke="#4c4948" stroke-width="0.56"/>
<line x1="710.2" y1="527.5" x2="710.2" y2="585.2" stroke="#4c4948" stroke-width="0.56"/>
<line x1="513" y1="602.8" x2="738" y2="602.8" stroke="#231815" stroke-width="0.66"/>
<path d="M510.8 602.8 L515.6 600.4 L515.6 605.2 Z" stroke="#231815" stroke-width="0" fill="#231815"/>
<path d="M740 602.8 L735.2 600.4 L735.2 605.2 Z" stroke="#231815" stroke-width="0" fill="#231815"/>
<text transform="translate(626.30 600.20) scale(0.88 1)" font-size="11" text-anchor="middle" fill="#231815">W</text>
<line x1="599.8" y1="363.4" x2="599.8" y2="488.5" stroke="#231815" stroke-width="0.9"/>
<line x1="599.7" y1="488.5" x2="599.7" y2="585.2" stroke="#4c4948" stroke-width="0.66"/>
<line x1="624.7" y1="369.7" x2="624.7" y2="399.7" stroke="#231815" stroke-width="0.9"/>
<line x1="624.7" y1="399.7" x2="624.7" y2="462.5" stroke="#8a8786" stroke-width="0.56"/>
<line x1="624.7" y1="462.5" x2="624.7" y2="488.5" stroke="#231815" stroke-width="0.9"/>
<line x1="624.7" y1="488.5" x2="624.7" y2="585.2" stroke="#4c4948" stroke-width="0.66"/>
<line x1="599.8" y1="374.4" x2="624.7" y2="374.4" stroke="#231815" stroke-width="0.9"/>
<line x1="599.8" y1="383.7" x2="624.7" y2="383.7" stroke="#231815" stroke-width="0.9"/>
<line x1="624.7" y1="369.7" x2="623" y2="369.7" stroke="#231815" stroke-width="0.56"/>
<path d="M600.8 399.7 L600.8 388.6 L620.3 388.6 L620.3 399.7 L624.7 399.7" stroke="#231815" stroke-width="1.2" fill="none"/>
<path d="M603.3 399.7 L603.3 391 L617.8 391 L617.8 399.7" stroke="#231815" stroke-width="0.8" fill="none"/>
<path d="M605.5 391.3 L616 391.3 L616 396.5 L605.5 396.5" stroke="#4c4948" stroke-width="0.56" fill="none"/>
<line x1="605.5" y1="396.5" x2="616" y2="391.3" stroke="#4c4948" stroke-width="0.56"/>
<rect x="603.7" y="392" width="3" height="78" fill="#a9a8a8" stroke="none" stroke-width="0.6"/>
<line x1="603.7" y1="392" x2="603.7" y2="470" stroke="#231815" stroke-width="0.6"/>
<line x1="606.8" y1="396.5" x2="606.8" y2="466" stroke="#231815" stroke-width="0.6"/>
<line x1="616.5" y1="396.5" x2="616.5" y2="466" stroke="#231815" stroke-width="0.56"/>
<line x1="618.9" y1="392" x2="618.9" y2="470" stroke="#231815" stroke-width="0.9"/>
<path d="M600.8 462.5 L600.8 473.7 L620.3 473.7 L620.3 462.5 L624.7 462.5" stroke="#231815" stroke-width="1.2" fill="none"/>
<path d="M603.3 462.5 L603.3 471.3 L617.8 471.3 L617.8 462.5" stroke="#231815" stroke-width="0.8" fill="none"/>
<path d="M605.5 470.9 L616 470.9 L616 465.8 L605.5 465.8" stroke="#4c4948" stroke-width="0.56" fill="none"/>
<line x1="605.5" y1="465.8" x2="616" y2="470.9" stroke="#4c4948" stroke-width="0.56"/>
<line x1="599.8" y1="479.4" x2="624.7" y2="479.4" stroke="#231815" stroke-width="0.9"/>
<rect x="598" y="431.5" width="29" height="1" fill="#fff" stroke="none" stroke-width="0.6"/>
<line x1="599.8" y1="498.5" x2="600.8" y2="498.5" stroke="#231815" stroke-width="0.9"/>
<line x1="600.3" y1="488.5" x2="600.3" y2="498.5" stroke="#231815" stroke-width="1"/>
<line x1="624.2" y1="488.5" x2="624.2" y2="491" stroke="#231815" stroke-width="1"/>
<path d="M624.7 379 L635.3 379 L635.3 381 L637.2 381 L637.2 367.8 L641 367.8 L657 396 L662.5 399.7 L662.5 409.6 L652 409.6 L636.3 397.8 L624.7 397.8" stroke="#231815" stroke-width="0.7" fill="#fff"/>
<line x1="635.8" y1="381" x2="635.8" y2="397.8" stroke="#231815" stroke-width="0.56"/>
<line x1="658.8" y1="398" x2="658.8" y2="409.6" stroke="#231815" stroke-width="0.56"/>
<line x1="638.6" y1="369" x2="638.6" y2="397.5" stroke="#4c4948" stroke-width="0.56"/>
<path d="M624.7 439.6 A48.8 48.8 0 0 1 673.5 488.5" stroke="#4c4948" stroke-width="0.56" fill="none"/>
<text transform="translate(661.30 451.30) rotate(45) scale(0.85 1)" font-size="11.5" text-anchor="middle" fill="#231815">90°</text>
<path d="M514.7 491.4 L514.7 488.5 L519.5 488.5" stroke="#231815" stroke-width="0.9" fill="none"/>
<path d="M519.5 488.5 L519.5 552" stroke="#231815" stroke-width="0.8" fill="none"/>
<path d="M520.9 489 L520.9 539.5" stroke="#231815" stroke-width="0.56" fill="none"/>
<path d="M521 505.6 L529.6 505.6" stroke="#231815" stroke-width="0.9" fill="none"/>
<path d="M525 503.6 L525 505.6" stroke="#231815" stroke-width="0.6" fill="none"/>
<path d="M527 503.6 L527 505.6" stroke="#231815" stroke-width="0.6" fill="none"/>
<path d="M529.2 503.6 L529.2 505.6" stroke="#231815" stroke-width="0.6" fill="none"/>
<path d="M521 529.6 L539.8 529.6 L539.8 527.4" stroke="#231815" stroke-width="0.9" fill="none"/>
<path d="M535.5 527.6 L535.5 529.6" stroke="#231815" stroke-width="0.6" fill="none"/>
<path d="M537.6 527.6 L537.6 529.6" stroke="#231815" stroke-width="0.6" fill="none"/>
<path d="M490 531.7 L519.3 531.7" stroke="#231815" stroke-width="0.9" fill="none"/>
<path d="M521.2 539.3 L521.2 552.4 L526.2 552.4 L526.2 567.6" stroke="#3e3a39" stroke-width="2.2" fill="none"/>
<path d="M518.2 542.6 L520 542.6 L520 550 L518.2 550 L518.2 542.6" stroke="#4c4948" stroke-width="0.56" fill="#c9caca"/>
<path d="M510.6 552.6 L517 552.6 L519 551.6" stroke="#4c4948" stroke-width="0.56" fill="none"/>
<path d="M510.6 554 L517 554" stroke="#4c4948" stroke-width="0.56" fill="none"/>
<path d="M736 491.4 L736 488.5 L731.2 488.5" stroke="#231815" stroke-width="0.9" fill="none"/>
<path d="M731.2 488.5 L731.2 552" stroke="#231815" stroke-width="0.8" fill="none"/>
<path d="M729.8 489 L729.8 539.5" stroke="#231815" stroke-width="0.56" fill="none"/>
<path d="M729.7 505.6 L721.1 505.6" stroke="#231815" stroke-width="0.9" fill="none"/>
<path d="M725.7 503.6 L725.7 505.6" stroke="#231815" stroke-width="0.6" fill="none"/>
<path d="M723.7 503.6 L723.7 505.6" stroke="#231815" stroke-width="0.6" fill="none"/>
<path d="M721.5 503.6 L721.5 505.6" stroke="#231815" stroke-width="0.6" fill="none"/>
<path d="M729.7 529.6 L710.9 529.6 L710.9 527.4" stroke="#231815" stroke-width="0.9" fill="none"/>
<path d="M715.2 527.6 L715.2 529.6" stroke="#231815" stroke-width="0.6" fill="none"/>
<path d="M713.1 527.6 L713.1 529.6" stroke="#231815" stroke-width="0.6" fill="none"/>
<path d="M760.7 531.7 L731.4 531.7" stroke="#231815" stroke-width="0.9" fill="none"/>
<path d="M729.5 539.3 L729.5 552.4 L724.5 552.4 L724.5 567.6" stroke="#3e3a39" stroke-width="2.2" fill="none"/>
<path d="M732.5 542.6 L730.7 542.6 L730.7 550 L732.5 550 L732.5 542.6" stroke="#4c4948" stroke-width="0.56" fill="#c9caca"/>
<path d="M740.1 552.6 L733.7 552.6 L731.7 551.6" stroke="#4c4948" stroke-width="0.56" fill="none"/>
<path d="M740.1 554 L733.7 554" stroke="#4c4948" stroke-width="0.56" fill="none"/>
</svg>
</body></html>
